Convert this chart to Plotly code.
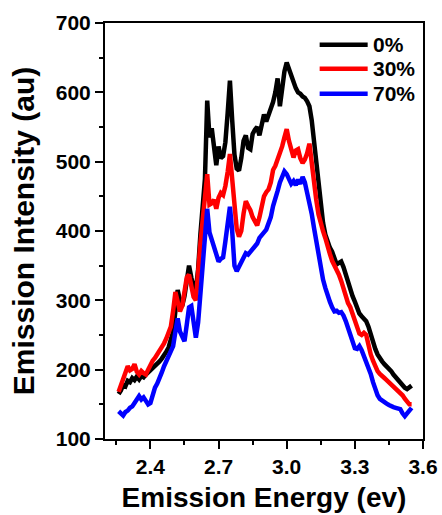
import plotly.graph_objects as go

energy = [
    2.26, 2.27, 2.28, 2.29, 2.30, 2.31, 2.32, 2.33, 2.34, 2.35,
    2.36, 2.37, 2.38, 2.39, 2.40, 2.41, 2.42, 2.43, 2.44, 2.45,
    2.46, 2.47, 2.48, 2.49, 2.50, 2.51, 2.52, 2.53, 2.54, 2.55,
    2.56, 2.57, 2.58, 2.59, 2.60, 2.61, 2.62, 2.63, 2.64, 2.65,
    2.66, 2.67, 2.68, 2.69, 2.70, 2.71, 2.72, 2.73, 2.74, 2.75,
    2.76, 2.77, 2.78, 2.79, 2.80, 2.81, 2.82, 2.83, 2.84, 2.85,
    2.86, 2.87, 2.88, 2.89, 2.90, 2.91, 2.92, 2.93, 2.94, 2.95,
    2.96, 2.97, 2.98, 2.99, 3.00, 3.01, 3.02, 3.03, 3.04, 3.05,
    3.06, 3.07, 3.08, 3.09, 3.10, 3.11, 3.12, 3.13, 3.14, 3.15,
    3.16, 3.17, 3.18, 3.19, 3.20, 3.21, 3.22, 3.23, 3.24, 3.25,
    3.26, 3.27, 3.28, 3.29, 3.30, 3.31, 3.32, 3.33, 3.34, 3.35,
    3.36, 3.37, 3.38, 3.39, 3.40, 3.41, 3.42, 3.43, 3.44, 3.45,
    3.46, 3.47, 3.48, 3.49, 3.50, 3.51, 3.52, 3.53, 3.54, 3.55,
]

intensity_0 = [
    165, 170, 178, 176, 184, 182, 188, 185, 190, 186,
    191, 189, 193, 196, 199, 203, 204, 209, 212, 216,
    220, 226, 232, 242, 255, 285, 315, 300, 292, 306,
    335, 350, 333, 318, 315, 345, 395, 440, 475, 588,
    535, 548, 525, 495, 522, 505, 508, 528, 570, 617,
    560, 510, 490, 487, 505, 530, 538, 520, 518, 540,
    546, 550, 538, 555, 568, 558, 566, 575, 586, 600,
    620, 580, 608, 630, 643, 633, 624, 617, 606, 600,
    598, 594, 592, 587, 580, 560, 532, 498, 465, 436,
    412, 395, 383, 376, 370, 360, 352, 354, 356, 348,
    336, 324, 314, 306, 298, 288, 281, 277, 274, 270,
    262, 250, 240, 230, 222, 216, 212, 208, 205, 202,
    198, 193, 189, 185, 182, 178, 174, 172, 174, 177,
]

intensity_30 = [
    168, 178, 188, 194, 205, 199, 201, 208, 197, 193,
    198, 195, 193, 200, 208, 213, 217, 222, 226, 231,
    238, 245, 252, 262, 285, 312, 298, 284, 292, 312,
    333, 337, 322, 305, 300, 350, 382, 415, 455, 482,
    438, 440, 445, 432, 448, 455, 452, 465, 485, 511,
    475, 440, 403, 392, 400, 425, 443, 436, 430, 420,
    412, 408, 420, 438, 450, 456, 460, 470, 488, 494,
    502, 510, 522, 535, 547, 530, 518, 506, 516, 518,
    505, 498, 503, 512, 526, 495, 468, 445, 424, 410,
    400, 390, 376, 367, 357, 350, 346, 337, 328, 317,
    306, 296, 290, 280, 268, 258, 252, 250, 253, 250,
    235, 222, 213, 205, 198, 194, 190, 188, 185, 182,
    178, 175, 172, 170, 168, 163, 158, 154, 150, 150,
]

intensity_70 = [
    140, 136, 134, 139, 141, 145, 147, 152, 158, 162,
    157, 160, 155, 150, 152, 165, 174, 180, 187, 196,
    205, 212, 218, 226, 234, 255, 274, 255, 246, 241,
    265, 290, 292, 262, 246, 268, 310, 360, 400, 432,
    398, 386, 374, 365, 356, 360, 362, 385, 415, 435,
    400, 350, 342, 348, 356, 362, 368, 366, 370, 374,
    378, 382, 390, 395, 398, 402, 410, 420, 436, 445,
    458, 470, 480, 486, 482, 476, 468, 472, 466, 474,
    468, 478, 470, 455, 443, 425, 405, 385, 362, 345,
    330, 318, 306, 298, 290, 284, 285, 282, 283, 278,
    270, 260, 250, 240, 231, 230, 234, 228, 220, 212,
    204, 194, 182, 172, 163, 158, 155, 153, 151, 149,
    147, 146, 145, 144, 143, 137, 133, 137, 142, 145,
]

series_names = ["0%", "30%", "70%"]
series_colors = ["#000000", "#ff0000", "#0000ff"]
series_values = [intensity_0, intensity_30, intensity_70]

x_title = "Emission Energy (ev)"
y_title = "Emission Intensity (au)"

FONT = "Liberation Sans, Arial, Helvetica, sans-serif"

fig = go.Figure()
for name, color, vals in zip(series_names, series_colors, series_values):
    fig.add_trace(go.Scatter(
        x=energy, y=vals, mode="lines", name=name,
        line=dict(color=color, width=4.5),
        showlegend=False,
    ))

# hand-drawn legend (style/layout only), placed in paper coordinates
legend_y = [0.948, 0.890, 0.830]
for name, color, ly in zip(series_names, series_colors, legend_y):
    fig.add_shape(type="line", xref="paper", yref="paper",
                  x0=0.675, x1=0.826, y0=ly, y1=ly,
                  line=dict(color=color, width=4.5))
    fig.add_annotation(xref="paper", yref="paper", x=0.835, y=ly,
                       xanchor="left", yanchor="middle", showarrow=False,
                       text=name,
                       font=dict(family=FONT, size=21, color="black", weight="bold"))

axis_common = dict(
    showgrid=False, zeroline=False, automargin=False,
    showline=True, linecolor="black", linewidth=2, mirror=True,
    ticks="outside", ticklen=8, tickwidth=2, tickcolor="black",
    tickfont=dict(family=FONT, size=21, color="black", weight="bold"),
)

fig.update_layout(
    width=442, height=515,
    margin=dict(l=105, r=19, t=23, b=76),
    paper_bgcolor="white", plot_bgcolor="white",
    font=dict(family=FONT, color="black"),
    showlegend=False,
    xaxis=dict(
        **axis_common,
        range=[2.2, 3.6001], tick0=2.4, dtick=0.3, tickformat=".1f",
        minor=dict(tick0=2.25, dtick=0.15, ticklen=4, tickwidth=2,
                   tickcolor="black", ticks="outside"),
        title=dict(text=x_title, standoff=10,
                   font=dict(family=FONT, size=28, color="black", weight="bold")),
    ),
    yaxis=dict(
        **axis_common,
        range=[100, 700], tick0=100, dtick=100,
        minor=dict(tick0=100, dtick=50, ticklen=4, tickwidth=2,
                   tickcolor="black", ticks="outside"),
        title=dict(text=y_title, standoff=12,
                   font=dict(family=FONT, size=30, color="black", weight="bold")),
    ),
)

fig.write_html(
    "out.html",
    config={"displayModeBar": False},
    post_script="document.body.style.margin='0';document.body.style.overflow='hidden';",
)
